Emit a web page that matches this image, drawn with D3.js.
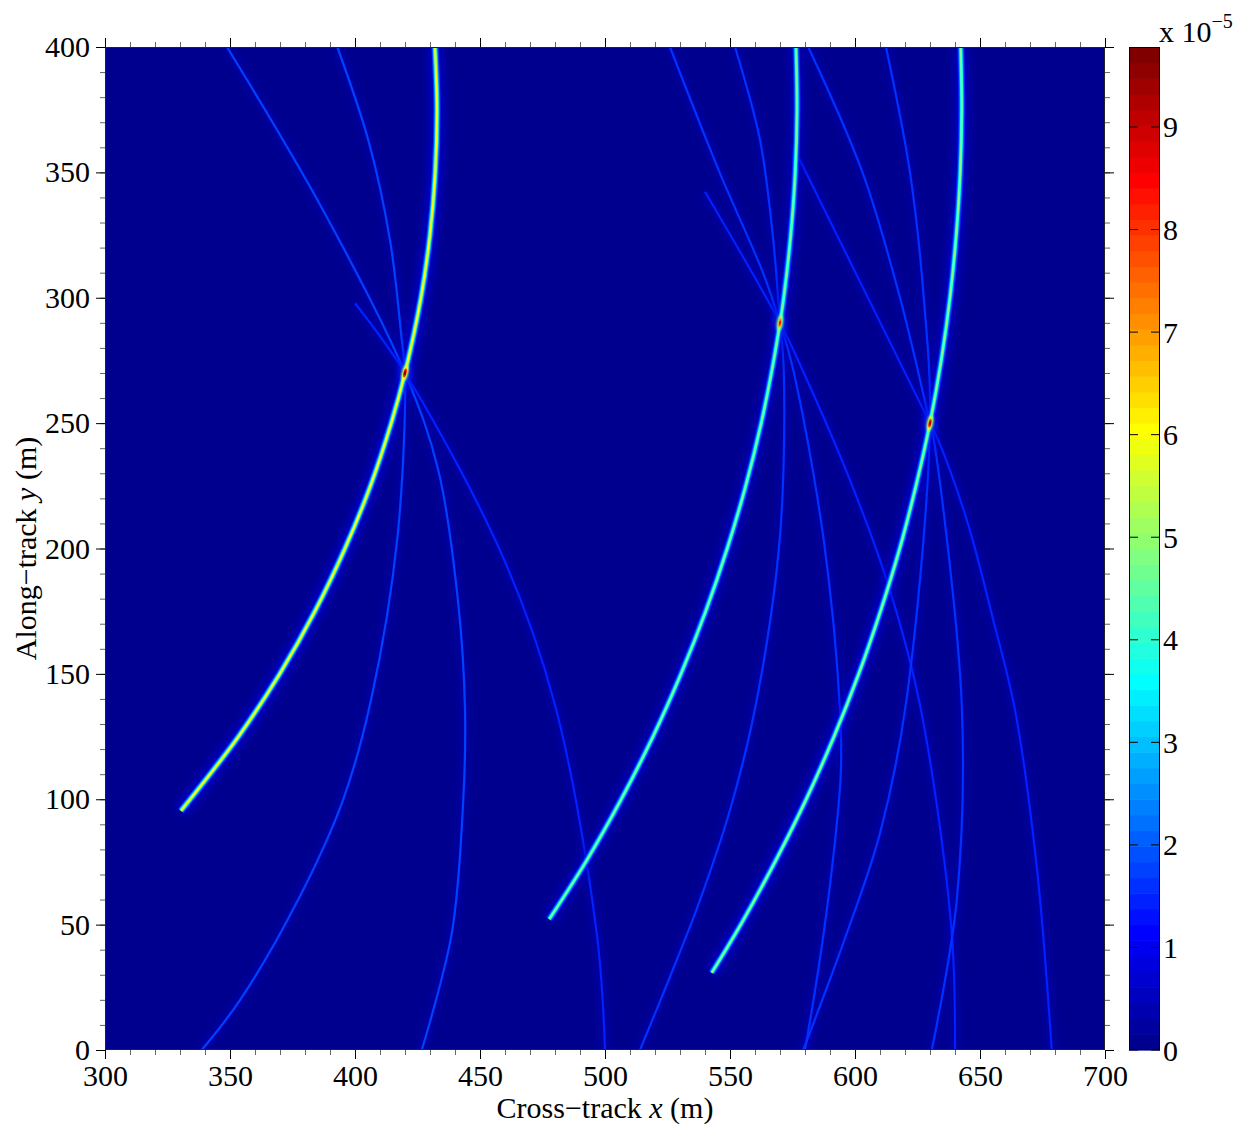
<!DOCTYPE html>
<html>
<head>
<meta charset="utf-8">
<script src="https://cdn.jsdelivr.net/npm/d3@7"></script>
<style>
body{margin:0;background:#fff;}
text{font-family:"Liberation Serif","Times New Roman",serif;fill:#000;}
</style>
</head>
<body>
<script>
// ---- data (metres; image values in units of 1e-5) ----
var xTickLabels=[300,350,400,450,500,550,600,650,700];
var yTickLabels=[0,50,100,150,200,250,300,350,400];
var cbarTickLabels=[0,1,2,3,4,5,6,7,8,9];
var cbarMax=9.78;

var targets=[[420,270],[570,290],[630,250]];
var peakLevels=[9.7,8.3,9.2];
var mainLevels=[6.0,4.7,4.8];

// bright range arcs, top -> bottom
var mainArc1=[[432,400],[432.8,375],[432.1,350],[430,325],[426.4,300],[420,270],[414.5,250],[406.2,225],[396,200],[384,175],[369.9,150],[353.4,125],[330.4,95.4]];
var mainArc2=[[576.4,400],[576.8,375],[576.1,350],[574.3,325],[571.5,300],[570,290],[567.5,275],[562.5,250],[556.3,225],[548.9,200],[540.3,175],[530.4,150],[519.2,125],[506.5,100],[492.3,75],[477.7,52.2]];
var mainArc3=[[642.3,400],[642.7,375],[642.1,350],[640.5,325],[638,300],[634.5,275],[630,250],[624.4,225],[617.9,200],[610.2,175],[601.5,150],[591.6,125],[580.5,100],[568,75],[554.3,50],[542.7,30.8]];

// faint arcs through each target, top -> bottom
var ghost1=[[348.8,400],[386.8,335.7],[420,270],[433.3,231.3],[441.3,178.1],[444,135.6],[443.3,99.7],[438.7,46.5],[426.7,0]];
var ghost2=[[392.9,400],[405.3,362.9],[414,323],[418.7,283.2],[420,270],[417,204.7],[406.4,139.6],[395.2,99.7],[377.2,59.8],[354,19.9],[338.7,0]];
var ghost3=[[400,297.8],[420,270],[459,197],[480,137.6],[496.7,46.5],[500,0]];
var ghost4=[[526,400],[546,349.6],[563.3,309.7],[570,290],[575.3,271.2],[587.3,204.7],[594,135.6],[594.3,110],[590.5,70],[585.5,33.2],[580,0]];
var ghost5=[[552,400],[562,362.9],[567.3,323],[570,290],[571.5,271.2],[570,205],[560.7,139.6],[550,95.7],[538,59.8],[526,29.2],[514,0]];
var ghost6=[[540,342.3],[570,290],[579,271.2],[598,227.3],[613.5,184.8],[626,137.6],[638.5,49.2],[640,0]];
var ghost7=[[581.3,400],[603,350],[618,300],[630,250],[631.3,244.6],[642.7,137.6],[640.7,59.8],[630.7,0]];
var ghost8=[[612.4,400],[622,350],[627.5,300],[630,250],[620.3,137.6],[610,86.4],[596.7,46.5],[579.3,0]];
var ghost9=[[577.6,355.6],[630,250],[632.7,244.6],[644.7,211.4],[655.3,171.5],[664,135.6],[672.7,73.1],[678.7,0]];
var ghostLevels=[1.7,1.7,1.45,1.6,1.6,1.45,1.6,1.6,1.45];

var mainArcs=[mainArc1,mainArc2,mainArc3];
var ghosts=[ghost1,ghost2,ghost3,ghost4,ghost5,ghost6,ghost7,ghost8,ghost9];

// ---- jet(64) colormap ----
function jet64(){
  var m=64,n=16,u=[],i;
  for(i=1;i<=n;i++)u.push(i/n);
  for(i=1;i<n;i++)u.push(1);
  for(i=n;i>=1;i--)u.push(i/n);
  var r=new Array(m).fill(0),g=new Array(m).fill(0),b=new Array(m).fill(0);
  for(var k=0;k<u.length;k++){
    var gi=8+k+1, ri=gi+n, bi=gi-n;
    if(gi>=1&&gi<=m)g[gi-1]=u[k];
    if(ri>=1&&ri<=m)r[ri-1]=u[k];
    if(bi>=1&&bi<=m)b[bi-1]=u[k];
  }
  var out=[];
  for(i=0;i<m;i++)out.push(d3.rgb(r[i]*255,g[i]*255,b[i]*255).formatHex());
  return out;
}
var jetColors=jet64();

var W=1239,H=1124;
var plotL=105,plotR=1105,plotT=47,plotB=1050;

var x=d3.scaleLinear().domain([300,700]).range([plotL,plotR]);
var y=d3.scaleLinear().domain([0,400]).range([plotB,plotT]);
var color=d3.scaleQuantize().domain([0,cbarMax]).range(jetColors);
var cy=d3.scaleLinear().domain([0,cbarMax]).range([plotB,plotT]);

var svg=d3.select("body").append("svg")
  .attr("width",W)
  .attr("height",H);

var defs=svg.append("defs");
defs.append("clipPath").attr("id","plotclip")
  .append("rect").attr("x",plotL).attr("y",plotT).attr("width",plotR-plotL).attr("height",plotB-plotT);
defs.append("filter").attr("id","blurWide").attr("x","-20%").attr("y","-20%").attr("width","140%").attr("height","140%")
  .append("feGaussianBlur").attr("stdDeviation",3.5);
defs.append("filter").attr("id","blurSoft")
  .append("feGaussianBlur").attr("stdDeviation",0.55);
defs.append("filter").attr("id","blurSpot").attr("x","-100%").attr("y","-100%").attr("width","300%").attr("height","300%")
  .append("feGaussianBlur").attr("stdDeviation",1.2);

var glow=defs.append("radialGradient").attr("id","focusGlow");
glow.append("stop").attr("offset","0%").attr("stop-color",color(3.6)).attr("stop-opacity",0.85);
glow.append("stop").attr("offset","45%").attr("stop-color",color(1.8)).attr("stop-opacity",0.45);
glow.append("stop").attr("offset","100%").attr("stop-color",color(0.8)).attr("stop-opacity",0);

// ---- image ----
var plot=svg.append("g").attr("clip-path","url(#plotclip)");
plot.append("rect")
  .attr("x",plotL).attr("y",plotT)
  .attr("width",plotR-plotL).attr("height",plotB-plotT)
  .attr("fill",color(0));

var line=d3.line()
  .x(function(d){return x(d[0]);})
  .y(function(d){return y(d[1]);})
  .curve(d3.curveCatmullRom.alpha(0.5));

// faint arcs
var gGhost=plot.append("g");
gGhost.selectAll("path.halo")
  .data(ghosts).enter().append("path")
  .attr("class","halo")
  .attr("d",line)
  .attr("fill","none")
  .attr("stroke",color(0.9))
  .attr("stroke-width",6)
  .attr("stroke-opacity",0.4)
  .attr("filter","url(#blurWide)");
gGhost.selectAll("path.core")
  .data(ghosts).enter().append("path")
  .attr("class","core")
  .attr("d",line)
  .attr("fill","none")
  .attr("stroke",function(d,i){return color(ghostLevels[i]);})
  .attr("stroke-width",2.2)
  .attr("filter","url(#blurSoft)");

// glow round each target
plot.selectAll("ellipse.glow")
  .data(targets).enter().append("ellipse")
  .attr("class","glow")
  .attr("cx",function(d){return x(d[0]);})
  .attr("cy",function(d){return y(d[1]);})
  .attr("rx",11)
  .attr("ry",24)
  .attr("fill","url(#focusGlow)");

// bright arcs, drawn as stacked strokes
var layers=[
  {f:0.16,w:16,o:0.5,filt:"url(#blurWide)"},
  {f:0.30,w:7,o:1,filt:"url(#blurSoft)"},
  {f:0.50,w:4.8,o:1,filt:"url(#blurSoft)"},
  {f:0.75,w:3.1,o:1,filt:"url(#blurSoft)"},
  {f:1.00,w:1.8,o:1,filt:"url(#blurSoft)"}
];
var gMain=plot.append("g");
layers.forEach(function(L){
  gMain.append("g").selectAll("path")
    .data(mainArcs).enter().append("path")
    .attr("d",line)
    .attr("fill","none")
    .attr("stroke",function(d,i){return color(mainLevels[i]*L.f);})
    .attr("stroke-width",L.w)
    .attr("stroke-opacity",L.o)
    .attr("stroke-linecap","butt")
    .attr("filter",L.filt);
});

// focused peaks
function arcAngle(i){
  var t=targets[i],a=mainArcs[i],k=0;
  for(var j=0;j<a.length;j++){if(a[j][0]===t[0]&&a[j][1]===t[1])k=j;}
  var p=a[Math.max(k-1,0)],q=a[Math.min(k+1,a.length-1)];
  return Math.atan2(x(p[0])-x(q[0]),y(q[1])-y(p[1]))*180/Math.PI;
}
var spots=plot.selectAll("g.spot")
  .data(targets).enter().append("g")
  .attr("class","spot")
  .attr("transform",function(d,i){return "translate("+x(d[0])+","+y(d[1])+") rotate("+arcAngle(i)+")";});
spots.append("ellipse").attr("rx",3).attr("ry",8)
  .attr("fill",function(d,i){return color(peakLevels[i]*0.6);})
  .attr("filter","url(#blurSpot)");
spots.append("ellipse").attr("rx",1.6).attr("ry",4.5)
  .attr("fill",function(d,i){return color(peakLevels[i]*0.85);});
spots.append("ellipse").attr("rx",1).attr("ry",2.4)
  .attr("fill",function(d,i){return color(peakLevels[i]);});

// ---- axes ----
var xMinor=d3.range(300,701,10),yMinor=d3.range(0,401,10);
function styleMinor(g){g.select(".domain").remove();g.selectAll("line").attr("stroke","#666");g.selectAll("text").remove();}
function styleMajor(g){g.select(".domain").remove();g.selectAll("line").attr("stroke","#000");}

svg.append("g").attr("transform","translate(0,"+plotB+")")
  .call(d3.axisBottom(x).tickValues(xMinor).tickSize(5)).call(styleMinor);
svg.append("g").attr("transform","translate(0,"+plotT+")")
  .call(d3.axisTop(x).tickValues(xMinor).tickSize(5)).call(styleMinor);
svg.append("g").attr("transform","translate("+plotL+",0)")
  .call(d3.axisLeft(y).tickValues(yMinor).tickSize(5)).call(styleMinor);
svg.append("g").attr("transform","translate("+plotR+",0)")
  .call(d3.axisRight(y).tickValues(yMinor).tickSize(5)).call(styleMinor);

var xAx=svg.append("g").attr("transform","translate(0,"+plotB+")")
  .call(d3.axisBottom(x).tickValues(xTickLabels).tickSize(9).tickPadding(6).tickFormat(d3.format("d")))
  .call(styleMajor);
xAx.selectAll("text").attr("font-size",30).attr("font-family","Liberation Serif");
svg.append("g").attr("transform","translate(0,"+plotT+")")
  .call(d3.axisTop(x).tickValues(xTickLabels).tickSize(9).tickFormat(""))
  .call(styleMajor);
var yAx=svg.append("g").attr("transform","translate("+plotL+",0)")
  .call(d3.axisLeft(y).tickValues(yTickLabels).tickSize(9).tickPadding(6).tickFormat(d3.format("d")))
  .call(styleMajor);
yAx.selectAll("text").attr("font-size",30).attr("font-family","Liberation Serif");
svg.append("g").attr("transform","translate("+plotR+",0)")
  .call(d3.axisRight(y).tickValues(yTickLabels).tickSize(9).tickFormat(""))
  .call(styleMajor);

svg.append("rect")
  .attr("x",plotL+0.5).attr("y",plotT+0.5)
  .attr("width",plotR-plotL-1).attr("height",plotB-plotT-1)
  .attr("fill","none").attr("stroke","#222").attr("stroke-width",1);

// axis titles
var xt=svg.append("text").attr("x",(plotL+plotR)/2).attr("y",1118)
  .attr("text-anchor","middle").attr("font-size",30);
xt.append("tspan").text("Cross\u2212track ");
xt.append("tspan").attr("font-style","italic").text("x");
xt.append("tspan").text(" (m)");

var yt=svg.append("text")
  .attr("transform","translate(36,"+((plotT+plotB)/2)+") rotate(-90)")
  .attr("text-anchor","middle").attr("font-size",30);
yt.append("tspan").text("Along\u2212track ");
yt.append("tspan").attr("font-style","italic").text("y");
yt.append("tspan").text(" (m)");

// ---- colorbar ----
var cbx=1129,cbw=31;
var steps=d3.range(jetColors.length);
var cb=svg.append("g");
cb.selectAll("rect")
  .data(steps).enter().append("rect")
  .attr("x",cbx)
  .attr("y",function(i){return cy((i+1)*cbarMax/64);})
  .attr("width",cbw)
  .attr("height",function(i){return cy(i*cbarMax/64)-cy((i+1)*cbarMax/64)+0.6;})
  .attr("fill",function(i){return jetColors[i];});
cb.append("rect").attr("x",cbx+0.5).attr("y",plotT+0.5)
  .attr("width",cbw-1).attr("height",plotB-plotT-1)
  .attr("fill","none").attr("stroke","#000").attr("stroke-width",1);
cb.selectAll("line.tl")
  .data(cbarTickLabels).enter().append("line")
  .attr("x1",cbx).attr("x2",cbx+9)
  .attr("y1",function(d){return cy(d);}).attr("y2",function(d){return cy(d);})
  .attr("stroke","#000");
cb.selectAll("line.tr")
  .data(cbarTickLabels).enter().append("line")
  .attr("x1",cbx+cbw-9).attr("x2",cbx+cbw)
  .attr("y1",function(d){return cy(d);}).attr("y2",function(d){return cy(d);})
  .attr("stroke","#000");
cb.selectAll("text")
  .data(cbarTickLabels).enter().append("text")
  .attr("x",cbx+cbw+3)
  .attr("y",function(d){return cy(d);})
  .attr("dy","0.35em")
  .attr("font-size",30)
  .text(function(d){return d;});

var ex=svg.append("text").attr("x",1159).attr("y",42).attr("font-size",30);
ex.append("tspan").text("x 10");
ex.append("tspan").attr("dy",-14).attr("font-size",20).text("\u22125");
</script>
</body>
</html>
